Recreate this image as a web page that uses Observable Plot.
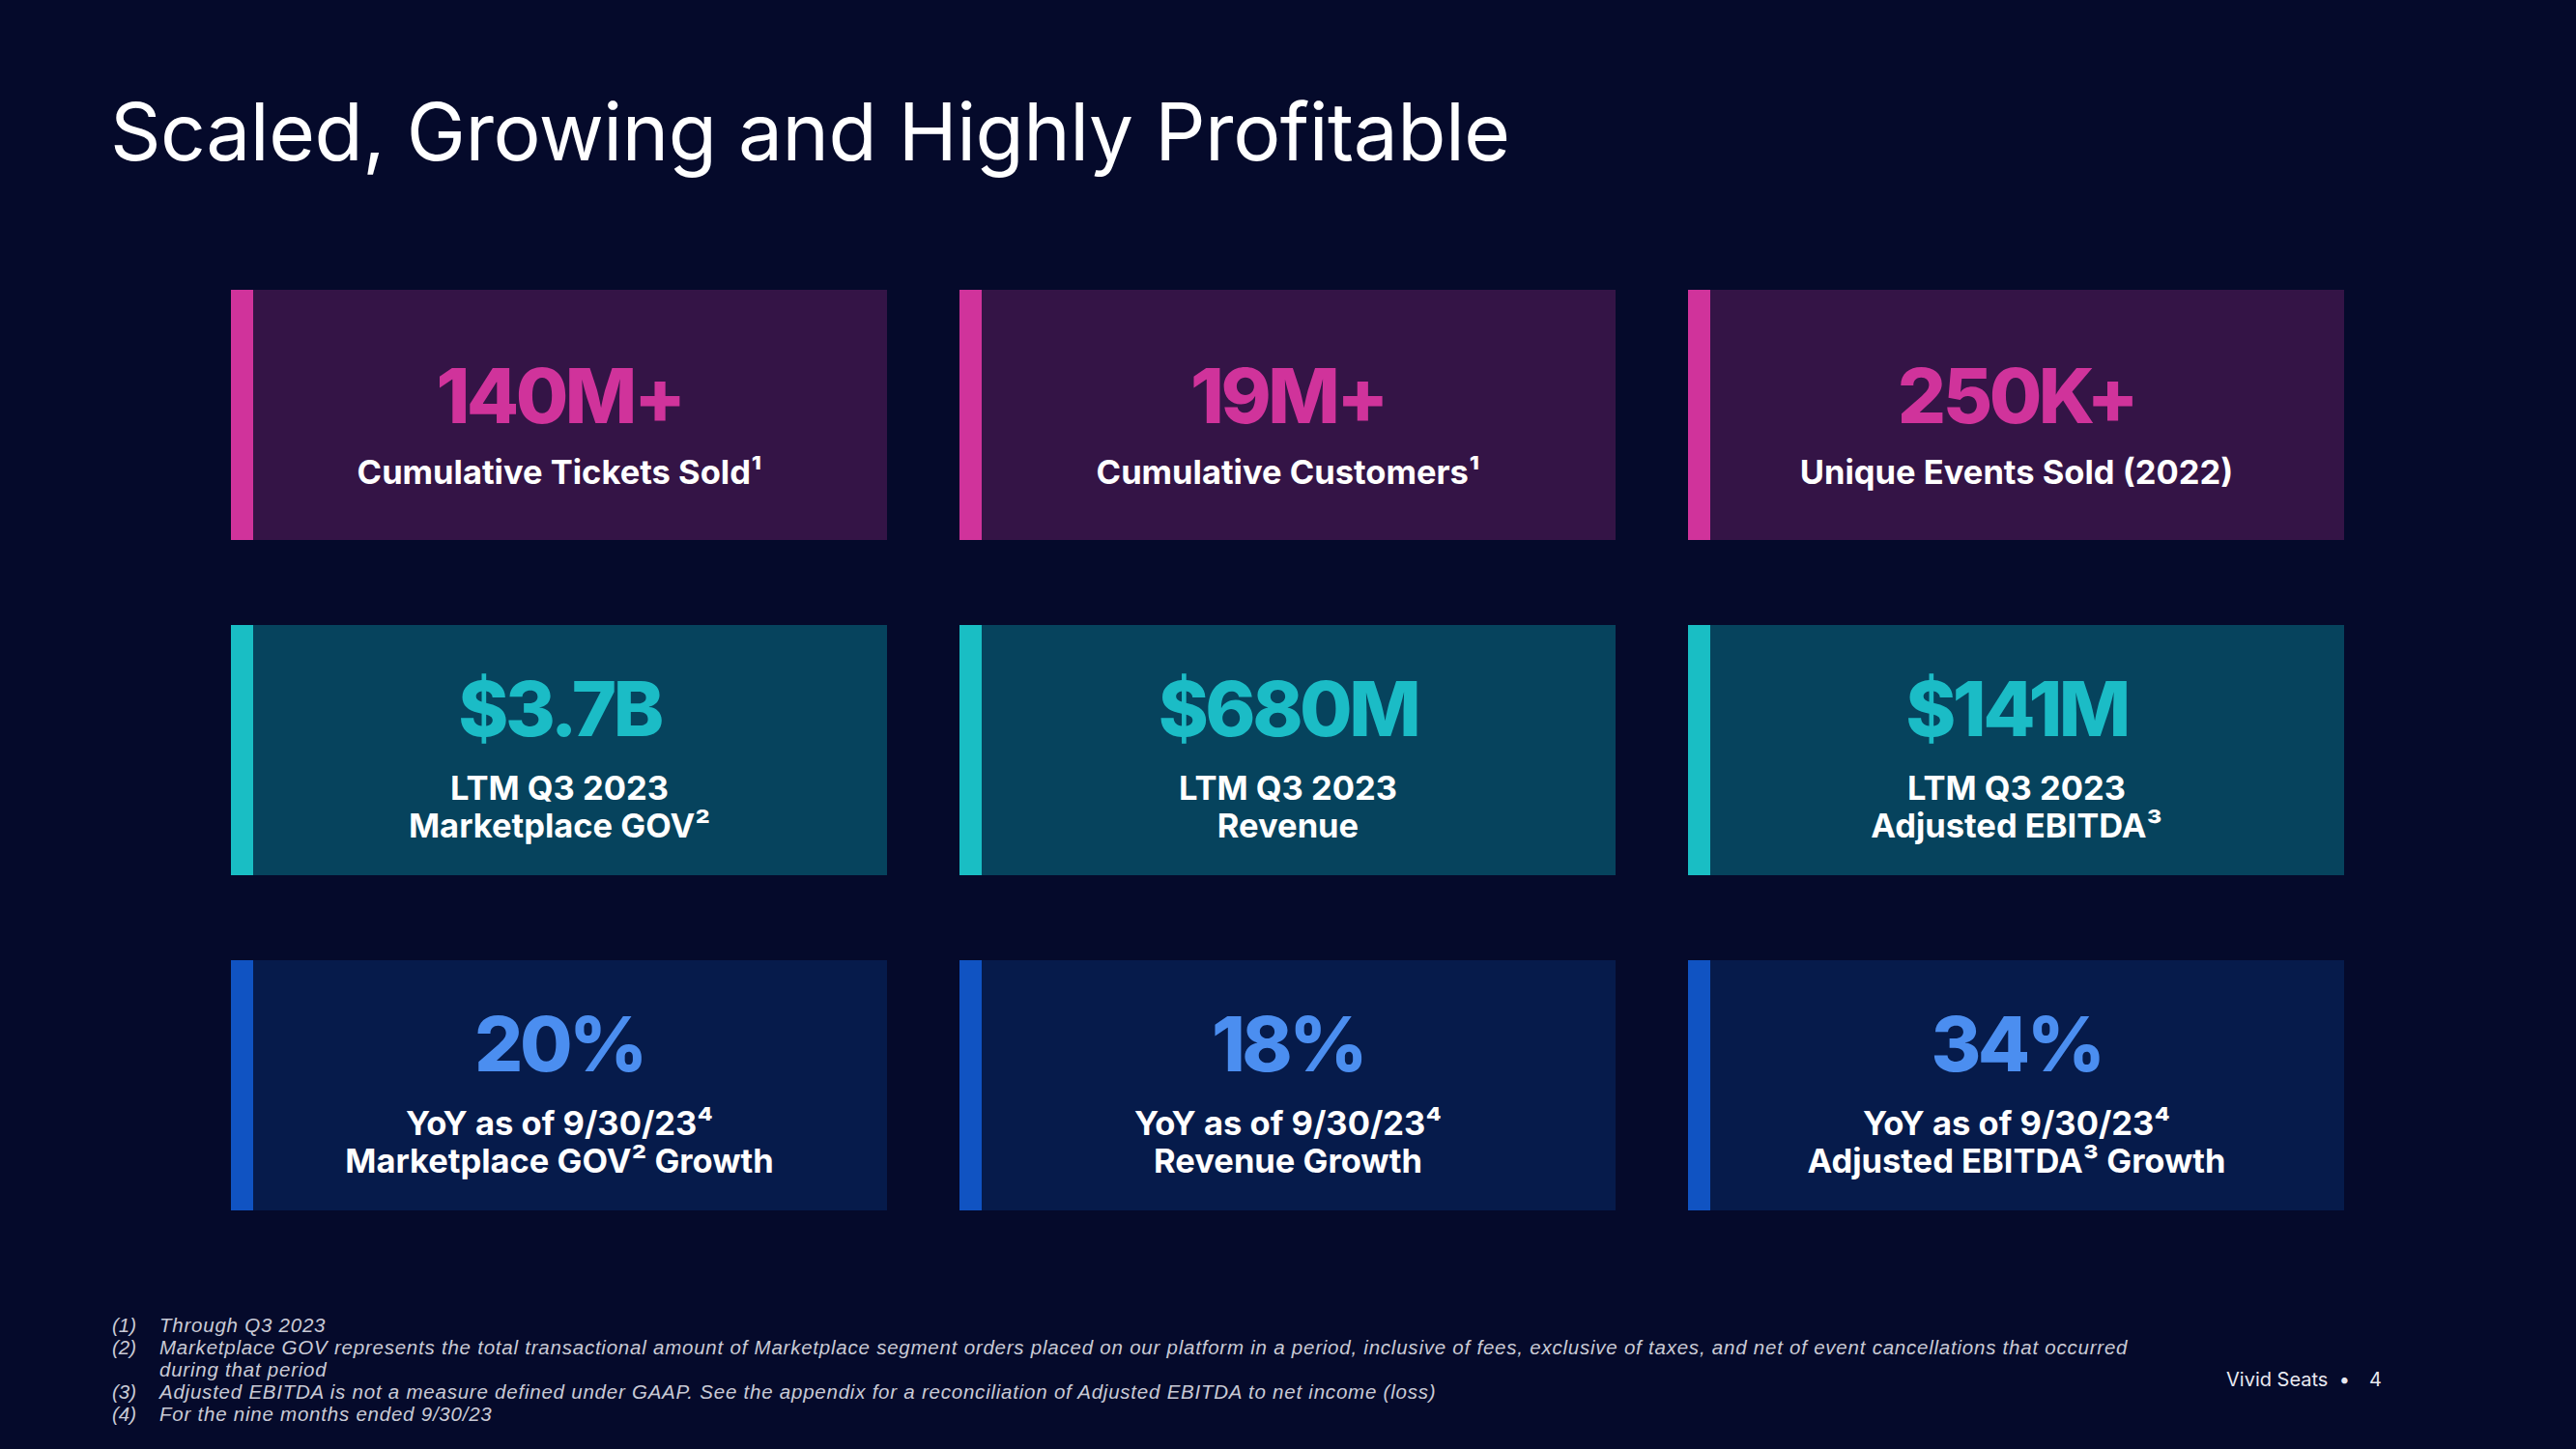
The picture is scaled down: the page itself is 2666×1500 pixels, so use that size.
<!DOCTYPE html>
<html><head><meta charset="utf-8">
<script src="https://cdn.jsdelivr.net/npm/d3@7"></script>
<script src="https://cdn.jsdelivr.net/npm/@observablehq/plot@0.6"></script>
<style>
html,body{margin:0;padding:0;background:#050a2b;}
#page{position:relative;width:2666px;height:1500px;background:#050a2b;overflow:hidden;font-family:Inter,sans-serif;}
#title{position:absolute;left:114px;top:96px;font-size:82px;font-weight:400;color:#ffffff;line-height:1;white-space:nowrap;letter-spacing:-0.5px}
#chart{position:absolute;left:0;top:270px;}
#notes{position:absolute;left:116px;top:1360px;font-family:"Liberation Sans",Arial,sans-serif;font-style:italic;font-weight:400;font-size:20.5px;line-height:23px;letter-spacing:0.77px;color:#c9cad6;}
.note{display:flex;white-space:nowrap;height:23px}
.note .n{width:49px;flex:none;letter-spacing:0}
#footer{position:absolute;left:2304px;top:1416px;font-size:20px;color:#e8e8f0;white-space:nowrap}
#footer .pg{margin-left:20px}
</style></head>
<body><div id="page">
<div id="title"></div>
<div id="chart"></div>
<div id="notes"></div>
<div id="footer">Vivid Seats&nbsp;&nbsp;•<span class="pg">4</span></div>
</div>
<script>
// ---- data ----
const titleText = "Scaled, Growing and Highly Profitable";
const rows = ["Scale", "Financials", "Growth"];
const cols = ["A", "B", "C"];
const metricRow = ["Scale","Scale","Scale","Financials","Financials","Financials","Growth","Growth","Growth"];
const metricCol = ["A","B","C","A","B","C","A","B","C"];
const metricValue = ["140M+", "19M+", "250K+", "$3.7B", "$680M", "$141M", "20%", "18%", "34%"];
const metricLabel = [
  "Cumulative Tickets Sold¹",
  "Cumulative Customers¹",
  "Unique Events Sold (2022)",
  "LTM Q3 2023\nMarketplace GOV²",
  "LTM Q3 2023\nRevenue",
  "LTM Q3 2023\nAdjusted EBITDA³",
  "YoY as of 9/30/23⁴\nMarketplace GOV² Growth",
  "YoY as of 9/30/23⁴\nRevenue Growth",
  "YoY as of 9/30/23⁴\nAdjusted EBITDA³ Growth"
];
const noteMarks = ["(1)", "(2)", "", "(3)", "(4)"];
const noteTexts = [
  "Through Q3 2023",
  "Marketplace GOV represents the total transactional amount of Marketplace segment orders placed on our platform in a period, inclusive of fees, exclusive of taxes, and net of event cancellations that occurred",
  "during that period",
  "Adjusted EBITDA is not a measure defined under GAAP. See the appendix for a reconciliation of Adjusted EBITDA to net income (loss)",
  "For the nine months ended 9/30/23"
];

// ---- styles ----
const theme = {
  Scale:      {card: "#341446", accent: "#d0339b", num: "#d0339b"},
  Financials: {card: "#06435d", accent: "#19bec4", num: "#1bbcc6"},
  Growth:     {card: "#061b4b", accent: "#1053c2", num: "#4b8ef0"}
};
const layout = {
  Scale:      {num: 8,   lab: 71},
  Financials: {num: -15, lab: 90},
  Growth:     {num: -15, lab: 90}
};
const CARD_W = 680, BAR_W = 24;

const metrics = metricValue.map((v, i) => ({row: metricRow[i], col: metricCol[i], value: v, label: metricLabel[i]}));

document.getElementById("title").textContent = titleText;
const notes = document.getElementById("notes");
noteTexts.forEach((t, i) => {
  const d = document.createElement("div"); d.className = "note";
  const n = document.createElement("span"); n.className = "n"; n.textContent = noteMarks[i];
  const s = document.createElement("span"); s.textContent = t;
  d.appendChild(n); d.appendChild(s); notes.appendChild(d);
});

const textMarks = rows.flatMap(r => [
  Plot.text(metrics, {filter: d => d.row === r, x: "col", y: "row", text: "value",
    dy: layout[r].num, lineAnchor: "bottom", fontSize: 79, fontWeight: 800,
    fontFamily: "Inter", fill: d => theme[d.row].num}),
  Plot.text(metrics, {filter: d => d.row === r, x: "col", y: "row", text: "label",
    dy: layout[r].lab, lineAnchor: "bottom", lineHeight: 1.13, fontSize: 34.5, fontWeight: 700,
    fontFamily: "Inter", fill: "#ffffff"})
]);

const chart = Plot.plot({
  width: 2666, height: 1013,
  marginLeft: 238, marginRight: 238, marginTop: 29, marginBottom: 30,
  x: {domain: cols, paddingInner: 0.0993, paddingOuter: 0, axis: null},
  y: {domain: rows, paddingInner: 0.255, paddingOuter: 0, axis: null},
  style: {background: "transparent", fontFamily: "Inter"},
  marks: [
    Plot.cell(metrics, {x: "col", y: "row", fill: d => theme[d.row].card, inset: 0}),
    Plot.cell(metrics, {x: "col", y: "row", fill: d => theme[d.row].accent, inset: 0, insetRight: CARD_W - BAR_W}),
    ...textMarks
  ]
});
// tighter tracking for the big numbers (as in the original typeface)
d3.select(chart).selectAll("g").filter(function () { return this.getAttribute("font-weight") === "800"; })
  .style("letter-spacing", "-3.5px");
document.getElementById("chart").appendChild(chart);
</script>
</body></html>
